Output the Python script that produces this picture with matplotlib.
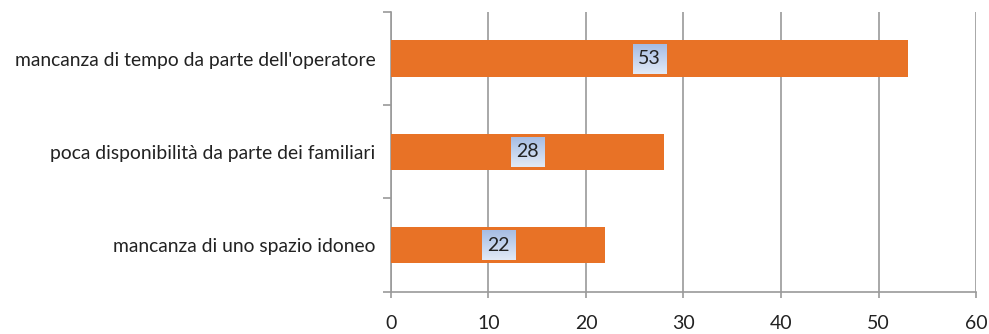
import numpy as np
import matplotlib
matplotlib.use("Agg")
import matplotlib.pyplot as plt

categories = [
    "mancanza di tempo da parte dell'operatore",
    "poca disponibilità da parte dei familiari",
    "mancanza di uno spazio idoneo",
]
values = [53, 28, 22]
x_ticks = [0, 10, 20, 30, 40, 50, 60]

plt.rcParams["font.family"] = ["Lato", "DejaVu Sans"]

fig = plt.figure(figsize=(9.89, 3.34), dpi=100)
ax = fig.add_axes([0.3953, 0.1266, 0.5916, 0.8375])

ypos = np.arange(len(categories))[::-1]
bar_color = "#E87226"
ax.barh(ypos, values, height=0.39, color=bar_color, zorder=3)

# value labels in gradient boxes centred on each bar
grad = np.linspace(0, 1, 50).reshape(-1, 1)
cmap = matplotlib.colors.LinearSegmentedColormap.from_list(
    "lbl", ["#A6BDE4", "#E2EAF6"])
box_w, box_h = 3.4, 0.32
for y, v in zip(ypos, values):
    cx = v / 2
    ax.imshow(grad, cmap=cmap, aspect="auto", origin="upper",
              extent=[cx - box_w / 2, cx + box_w / 2, y - box_h / 2, y + box_h / 2],
              zorder=4)
    ax.text(cx, y, str(v), ha="center", va="center", fontsize=14,
            color="#222222", zorder=5)

ax.set_xlim(0, 60)
ax.set_ylim(-0.5, len(categories) - 0.5)
ax.set_xticks(x_ticks)
ax.set_xticklabels([str(t) for t in x_ticks], fontsize=14, color="#222222")
ax.set_yticks(ypos)
ax.set_yticklabels(categories, fontsize=13.9, color="#222222")
ax.tick_params(axis="y", length=0, pad=11)
ax.set_yticks(np.arange(-0.5, len(categories), 1.0), minor=True)
ax.tick_params(axis="y", which="minor", length=5.5, color="#9A9A9A", width=1.2)
ax.tick_params(axis="x", length=4, color="#9A9A9A", width=1.2, pad=12.5)

ax.grid(axis="x", color="#9A9A9A", linewidth=1.2, zorder=0)
for s in ["top", "right"]:
    ax.spines[s].set_visible(False)
for s in ["left", "bottom"]:
    ax.spines[s].set_color("#9A9A9A")
    ax.spines[s].set_linewidth(1.2)

fig.savefig("out.png", dpi=100)
